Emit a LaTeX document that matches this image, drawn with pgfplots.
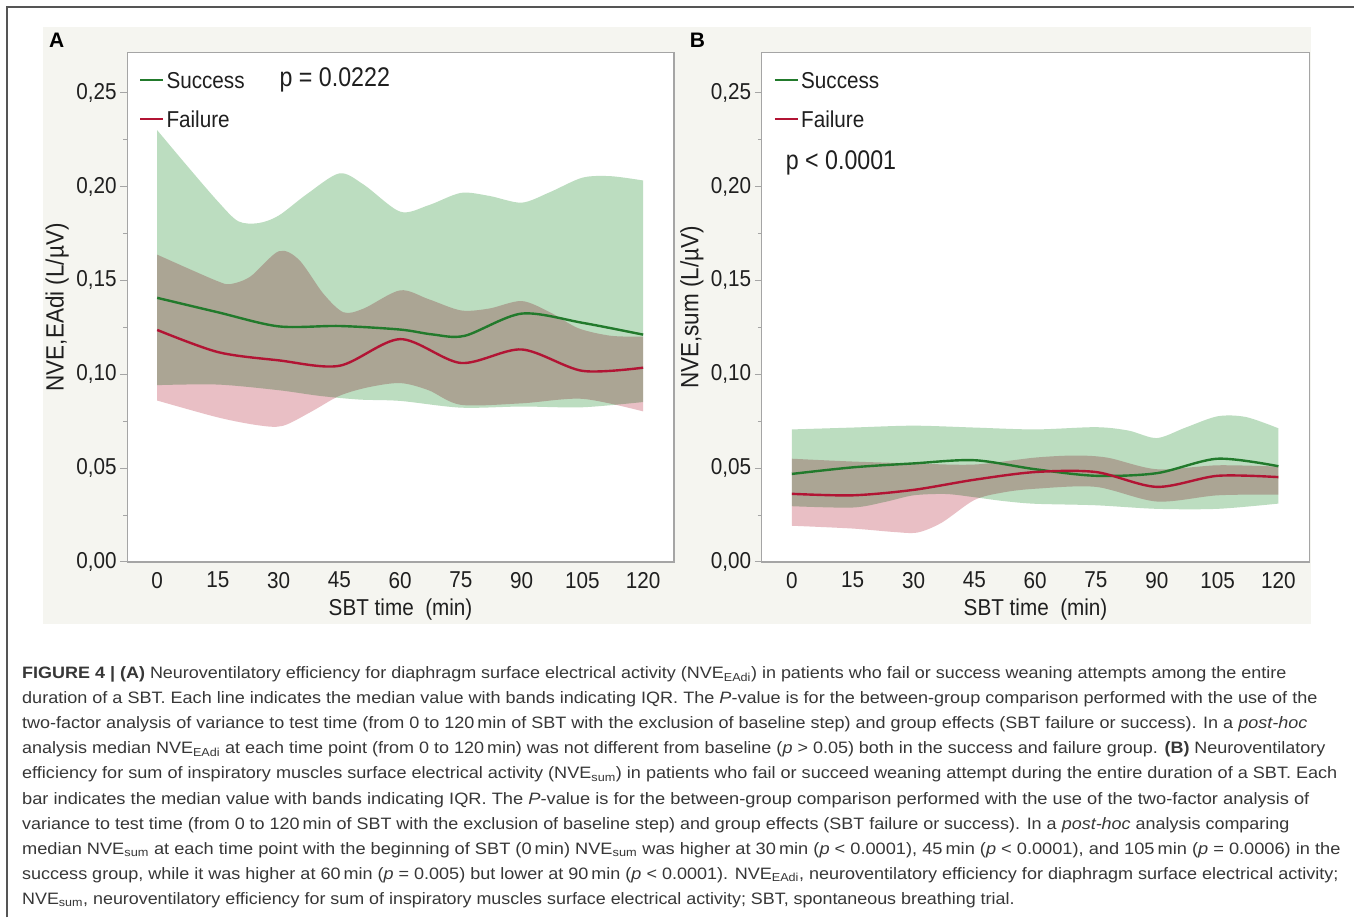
\documentclass[border=0pt]{standalone}
\usepackage{fontspec}
\setmainfont{Liberation Sans}
\newfontfamily\chartfont[FakeStretch=0.9]{Liberation Sans}
\newfontfamily\pfont[FakeStretch=0.86]{Liberation Sans}
\newfontfamily\capfont{Liberation Sans}
\usepackage{graphicx}
\usepackage{pgfplots}
\pgfplotsset{compat=1.18}
\usepgfplotslibrary{fillbetween}

\definecolor{sline}{RGB}{34,122,44}
\definecolor{fline}{RGB}{178,20,52}
\definecolor{sfill}{RGB}{188,221,192}
\definecolor{ffill}{RGB}{233,191,197}
\definecolor{axgray}{RGB}{165,165,165}
\definecolor{panelbg}{RGB}{245,245,240}
\definecolor{frame}{RGB}{85,85,85}
\definecolor{captxt}{RGB}{55,55,55}

\pgfdeclarelayer{figbg}
\pgfplotsset{
  layers/withfig/.define layer set={figbg,axis background,axis grid,axis ticks,axis lines,axis tick labels,pre main,main,axis descriptions,axis foreground}{/pgfplots/layers/standard},
  set layers=withfig,
}

\newcommand\tickfont{\chartfont\fontsize{23}{26}\selectfont}
\newcommand\ylabfont{\chartfont\fontsize{25}{28}\selectfont}
\newlength\capw
\newcommand\capline[2]{\settowidth\capw{#2}\pgfmathsetmacro\capsx{#1/\capw}\scalebox{\capsx}[1]{#2}}

\pgfplotsset{
  panel/.style={
    anchor=south west, scale only axis, height=509.6pt,
    xmin=-7.4, xmax=127.6, ymin=0, ymax=0.2713,
    axis line style={draw=axgray, line width=1.2pt},
    axis background/.style={fill=white},
    xtick={0,15,30,45,60,75,90,105,120},
    ytick={0,0.05,0.1,0.15,0.2,0.25},
    yticklabels={{0,00},{0,05},{0,10},{0,15},{0,20},{0,25}},
    minor ytick={0.025,0.075,0.125,0.175,0.225},
    /pgf/number format/assume math mode=true,
    tick pos=left,
    tick align=outside,
    major tick length=7pt, minor tick length=4pt,
    ytick style={draw=axgray, line width=1pt},
    xtick style={draw=none},
    ticklabel style={font=\tickfont, text=black!88},
    yticklabel style={inner sep=0pt, xshift=-3.5pt},
    xticklabel style={inner sep=0pt, yshift=-3pt},
    xlabel={SBT time\ \ (min)},
    xlabel style={font=\tickfont, text=black!88, at={(axis description cs:0.5,-0.094)}, anchor=center},
    ylabel style={font=\ylabfont, text=black!88, at={(axis description cs:-0.128,0.5)}, anchor=center},
    legend image code/.code={\draw[##1] (0pt,0pt) -- (23pt,0pt);},
    legend cell align=left,
    legend style={draw=none, fill=none, inner sep=0pt, row sep=22pt, column sep=2pt,
      at={(axis description cs:0.0214,0.9631)}, anchor=north west,
      font=\tickfont, text=black!88,
      nodes={inner sep=0pt, text height=17pt, text depth=0pt}},
  },
  band/.style={draw=none, smooth, forget plot},
  sband/.style={fill=sfill, draw=none, blend mode=multiply, forget plot},
  fband/.style={fill=ffill, draw=none, blend mode=multiply, forget plot},
  smed/.style={sline, line width=2.4pt, smooth},
  fmed/.style={fline, line width=2.4pt, smooth},
}

\begin{document}
\begin{tikzpicture}
\begin{pgfonlayer}{figbg}
\fill[white] (0pt,0pt) rectangle (1355pt,918pt);
\fill[panelbg] (42.7pt,294pt) rectangle (1311.7pt,891.3pt);
\draw[frame, line width=1.6pt] (7.3pt,0pt) -- (7.3pt,910.7pt) -- (1355pt,910.7pt);
\end{pgfonlayer}

\node[anchor=base west, inner sep=0pt, font=\bfseries\fontsize{21}{24}\selectfont] at (49pt,870pt) {A};
\node[anchor=base west, inner sep=0pt, font=\bfseries\fontsize{21}{24}\selectfont] at (690pt,870pt) {B};

% ---------------- Panel A ----------------
\begin{axis}[panel, at={(127.3pt,355.7pt)}, width=547pt, ylabel={NVE,EAdi (L/µV)}]
\addplot[band, name path=su] coordinates {(0,0.230) (7,0.212) (15,0.192) (20,0.1815) (25,0.1805) (30,0.1845) (37,0.196) (45,0.207) (51,0.201) (60,0.1866) (67,0.190) (75,0.1966) (82,0.195) (90,0.1914) (97,0.197) (105,0.2047) (112,0.2055) (120,0.2032)};
\addplot[band, name path=sl] coordinates {(0,0.0942) (15,0.0945) (30,0.0915) (40,0.0885) (50,0.0865) (60,0.0858) (75,0.0822) (90,0.0828) (105,0.0824) (120,0.0852)};
\addplot[band, name path=fu] coordinates {(0,0.1637) (8,0.156) (15,0.1495) (18,0.148) (23,0.152) (30,0.1655) (35,0.161) (41,0.143) (46,0.133) (51,0.135) (60,0.1447) (67,0.140) (75,0.134) (82,0.135) (90,0.139) (97,0.133) (104,0.1245) (112,0.1205) (120,0.1200)};
\addplot[band, name path=fl] coordinates {(0,0.0860) (15,0.0770) (25,0.0728) (31,0.0725) (38,0.0800) (45,0.0885) (52,0.0930) (60,0.0953) (67,0.0915) (75,0.0837) (90,0.0845) (105,0.0869) (120,0.0802)};
\addplot[sband] fill between[of=su and sl];
\addplot[fband] fill between[of=fu and fl];
\addplot[smed] coordinates {(0,0.1407) (15,0.1330) (30,0.1255) (45,0.1257) (60,0.1238) (68,0.1212) (76,0.1205) (90,0.1323) (105,0.1274) (120,0.1211)};
\addlegendentry{Success}
\addplot[fmed] coordinates {(0,0.1236) (15,0.1118) (30,0.1074) (45,0.1045) (60,0.1187) (75,0.1060) (90,0.1132) (105,0.1018) (120,0.1035)};
\addlegendentry{Failure}
\node[font=\pfont\fontsize{27}{30}\selectfont, text=black!88, anchor=center] at (rel axis cs:0.3797,0.9464) {p = 0.0222};
\end{axis}

% ---------------- Panel B ----------------
\begin{axis}[panel, at={(762.3pt,355.7pt)}, width=547.7pt, ylabel={NVE,sum (L/µV)}]
\addplot[band, name path=su] coordinates {(0,0.0706) (15,0.0716) (30,0.0726) (45,0.0716) (60,0.0706) (75,0.0718) (83,0.0700) (90,0.0660) (97,0.0715) (105,0.0776) (112,0.0772) (120,0.0712)};
\addplot[band, name path=sl] coordinates {(0,0.0297) (15,0.0290) (23,0.0320) (30,0.0355) (38,0.0362) (45,0.0345) (52,0.0325) (60,0.0310) (75,0.0302) (90,0.0283) (105,0.0283) (120,0.0311)};
\addplot[band, name path=fu] coordinates {(0,0.0550) (15,0.0535) (30,0.0525) (45,0.0519) (60,0.0556) (70,0.0567) (78,0.0555) (90,0.0494) (105,0.0515) (120,0.0508)};
\addplot[band, name path=fl] coordinates {(0,0.0193) (15,0.0178) (25,0.0160) (31,0.0157) (37,0.0210) (45,0.0330) (52,0.0370) (60,0.0390) (75,0.0400) (90,0.0322) (105,0.0355) (120,0.0359)};
\addplot[sband] fill between[of=su and sl];
\addplot[fband] fill between[of=fu and fl];
\addplot[smed] coordinates {(0,0.0469) (15,0.0504) (30,0.0525) (45,0.0542) (60,0.0494) (75,0.0459) (90,0.0473) (105,0.0550) (120,0.0510)};
\addlegendentry{Success}
\addplot[fmed] coordinates {(0,0.0363) (15,0.0355) (30,0.0384) (45,0.0438) (60,0.0479) (75,0.0479) (90,0.0400) (105,0.0459) (120,0.0452)};
\addlegendentry{Failure}
\node[font=\pfont\fontsize{27}{30}\selectfont, text=black!88, anchor=center] at (rel axis cs:0.1446,0.7836) {p < 0.0001};
\end{axis}

% ---------------- Caption ----------------
\begin{scope}[every node/.style={anchor=base west, inner sep=0pt, text=captxt, font=\capfont\fontsize{16.5}{20}\selectfont}]
\node at (22pt,239.0pt) {\capline{1265pt}{\textbf{FIGURE 4 | (A)} Neuroventilatory efficiency for diaphragm surface electrical activity (NVE\textsubscript{EAdi}) in patients who fail or success weaning attempts among the entire}};
\node at (22pt,213.9pt) {\capline{1296pt}{duration of a SBT. Each line indicates the median value with bands indicating IQR. The \textit{P}-value is for the between-group comparison performed with the use of the}};
\node at (22pt,188.8pt) {\capline{1286pt}{two-factor analysis of variance to test time (from 0 to 120\,min of SBT with the exclusion of baseline step) and group effects (SBT failure or success). In a \textit{post-hoc}}};
\node at (22pt,163.7pt) {\capline{1304pt}{analysis median NVE\textsubscript{EAdi} at each time point (from 0 to 120\,min) was not different from baseline (\textit{p} > 0.05) both in the success and failure group. \textbf{(B)} Neuroventilatory}};
\node at (22pt,138.6pt) {\capline{1316pt}{efficiency for sum of inspiratory muscles surface electrical activity (NVE\textsubscript{sum}) in patients who fail or succeed weaning attempt during the entire duration of a SBT. Each}};
\node at (22pt,113.5pt) {\capline{1288pt}{bar indicates the median value with bands indicating IQR. The \textit{P}-value is for the between-group comparison performed with the use of the two-factor analysis of}};
\node at (22pt,88.4pt) {\capline{1268pt}{variance to test time (from 0 to 120\,min of SBT with the exclusion of baseline step) and group effects (SBT failure or success). In a \textit{post-hoc} analysis comparing}};
\node at (22pt,63.3pt) {\capline{1319pt}{median NVE\textsubscript{sum} at each time point with the beginning of SBT (0\,min) NVE\textsubscript{sum} was higher at 30\,min (\textit{p} < 0.0001), 45\,min (\textit{p} < 0.0001), and 105\,min (\textit{p} = 0.0006) in the}};
\node at (22pt,38.2pt) {\capline{1317pt}{success group, while it was higher at 60\,min (\textit{p} = 0.005) but lower at 90\,min (\textit{p} < 0.0001). NVE\textsubscript{EAdi}, neuroventilatory efficiency for diaphragm surface electrical activity;}};
\node at (22pt,13.1pt) {\capline{993pt}{NVE\textsubscript{sum}, neuroventilatory efficiency for sum of inspiratory muscles surface electrical activity; SBT, spontaneous breathing trial.}};
\end{scope}
\end{tikzpicture}
\end{document}
